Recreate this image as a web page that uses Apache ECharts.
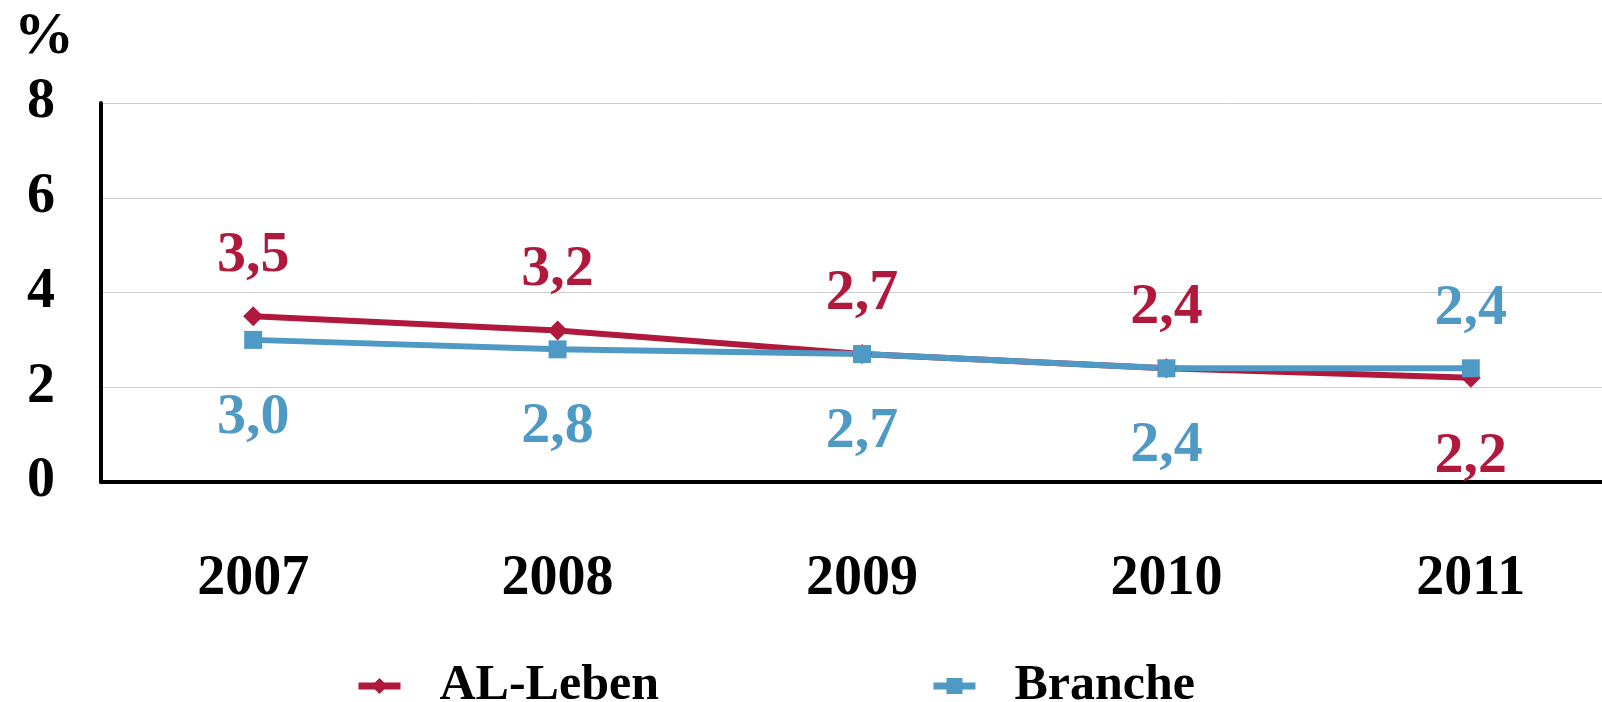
<!DOCTYPE html>
<html>
<head>
<meta charset="utf-8">
<script src="https://cdn.jsdelivr.net/npm/echarts@6/dist/echarts.min.js"></script>
<style>
html, body { margin: 0; padding: 0; background: #fff; }
#chart { width: 1602px; height: 702px; }
</style>
</head>
<body>
<div id="chart"></div>
<script>
var years = ["2007", "2008", "2009", "2010", "2011"];
var alLeben = [3.5, 3.2, 2.7, 2.4, 2.2];
var branche = [3.0, 2.8, 2.7, 2.4, 2.4];
// label above (true) or below (false) the point
var alAbove = [true, true, true, true, false];
var brAbove = [false, false, false, false, true];

var font = "'Liberation Serif', 'Times New Roman', serif";
var red = "#B0193B";
var blue = "#4E9AC4";

function fmt(v) {
    return v.toFixed(1).replace(".", ",");
}

function build(values, above) {
    return values.map(function (v, i) {
        return {
            value: v,
            label: {
                position: above[i] ? "top" : "bottom",
                distance: above[i] ? 21 : 40
            }
        };
    });
}

var myChart = echarts.init(document.getElementById("chart"));

var option = {
    backgroundColor: "#fff",
    animation: false,
    title: {
        text: "%",
        left: 9,
        top: 2,
        textStyle: { fontFamily: font, fontSize: 60, fontWeight: "bold", color: "#000" }
    },
    grid: {
        left: 101,
        top: 103,
        width: 1522,
        bottom: 220,
        outerBoundsMode: "none"
    },
    legend: {
        bottom: -14,
        left: 350,
        itemWidth: 42,
        itemHeight: 20,
        itemGap: 271,
        lineStyle: { width: 7 },
        textStyle: {
            fontFamily: font, fontSize: 50, fontWeight: "bold", color: "#000",
            padding: [0, 0, 0, 34]
        },
        data: ["AL-Leben", "Branche"]
    },
    xAxis: {
        type: "category",
        data: years,
        axisLine: { lineStyle: { color: "#000", width: 4 } },
        axisTick: { show: false },
        axisLabel: {
            margin: 70,
            fontFamily: font,
            fontSize: 56,
            fontWeight: "bold",
            color: "#000"
        }
    },
    yAxis: {
        type: "value",
        min: 0,
        max: 8,
        interval: 2,
        axisLine: { show: true, lineStyle: { color: "#000", width: 4 } },
        axisTick: { show: false },
        splitLine: { lineStyle: { color: "#cccccc", width: 1 } },
        axisLabel: {
            margin: 46,
            padding: [10, 0, 0, 0],
            fontFamily: font,
            fontSize: 56,
            fontWeight: "bold",
            color: "#000"
        }
    },
    series: [
        {
            name: "AL-Leben",
            type: "line",
            data: build(alLeben, alAbove),
            symbol: "diamond",
            symbolSize: 20,
            color: red,
            lineStyle: { color: red, width: 6 },
            itemStyle: { color: red },
            label: {
                show: true,
                fontFamily: font,
                fontSize: 58,
                fontWeight: "bold",
                color: red,
                formatter: function (p) { return fmt(p.value); }
            }
        },
        {
            name: "Branche",
            type: "line",
            data: build(branche, brAbove),
            symbol: "rect",
            symbolSize: 18,
            color: blue,
            lineStyle: { color: blue, width: 6 },
            itemStyle: { color: blue },
            label: {
                show: true,
                fontFamily: font,
                fontSize: 58,
                fontWeight: "bold",
                color: blue,
                formatter: function (p) { return fmt(p.value); }
            }
        }
    ]
};
myChart.setOption(option);
</script>
</body>
</html>
